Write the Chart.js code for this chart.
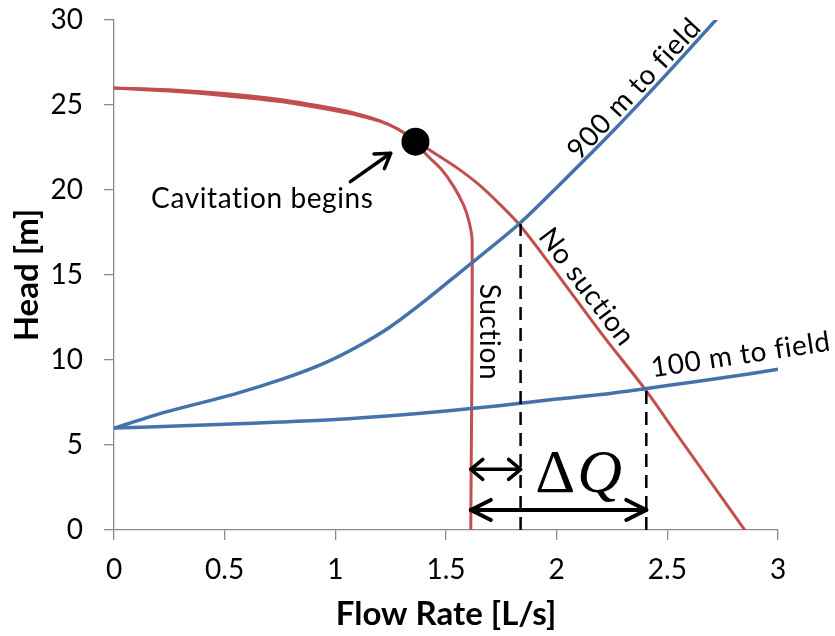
<!DOCTYPE html>
<html>
<head>
<meta charset="utf-8">
<script src="https://cdn.jsdelivr.net/npm/chart.js@4.4.1/dist/chart.umd.min.js"></script>
<style>
  body { margin: 0; background: #fff; }
  #chart { display: block; }
</style>
</head>
<body>
<canvas id="chart" width="835" height="636"></canvas>
<script>
// Pump curve without suction restriction (flow L/s, head m)
var noSuctionQ = [0, 0.25, 0.5, 0.75, 1.0, 1.1, 1.2, 1.28, 1.36, 1.45, 1.55, 1.65, 1.74, 1.83, 1.96, 2.2, 2.4, 2.55, 2.7, 2.85];
var noSuctionH = [26.0, 25.82, 25.55, 25.2, 24.66, 24.4, 24.05, 23.6, 22.9, 22.15, 21.3, 20.3, 19.2, 17.98, 15.8, 11.6, 8.27, 5.5, 2.75, 0];

// Pump curve with suction (cavitation) limit
var suctionQ = [0, 0.25, 0.5, 0.75, 1.0, 1.1, 1.2, 1.28, 1.36, 1.41, 1.48, 1.535, 1.58, 1.603, 1.618, 1.612];
var suctionH = [26.0, 25.9, 25.68, 25.33, 24.78, 24.48, 24.08, 23.6, 22.9, 22.1, 21.2, 20.2, 19.1, 18.2, 17.06, 0];

// System curve, 900 m to field
var sys900Q = [0, 0.24, 0.54, 0.767, 0.948, 1.099, 1.249, 1.4, 1.558, 1.83, 2.02, 2.259, 2.5, 2.726];
var sys900H = [6.0, 6.96, 7.98, 8.9, 9.8, 10.78, 11.96, 13.43, 15.1, 18.0, 20.4, 23.53, 26.86, 30.1];

// System curve, 100 m to field
var sys100Q = [0, 0.25, 0.5, 0.75, 1.0, 1.25, 1.5, 1.75, 2.0, 2.25, 2.5, 2.75, 3.0];
var sys100H = [6.0, 6.1, 6.22, 6.35, 6.5, 6.72, 7.0, 7.33, 7.7, 8.05, 8.5, 8.95, 9.45];

// Operating points (dashed drop lines) and cavitation point
var dropQ = [1.837, 2.405];
var dropH = [18.0, 8.27];
var cavitationQ = [1.362];
var cavitationH = [22.84];

// Axis ticks
var xTicks = [0, 0.5, 1, 1.5, 2, 2.5, 3];
var yTicks = [0, 5, 10, 15, 20, 25, 30];

function toPoints(xs, ys) {
    return xs.map(function (x, i) { return { x: x, y: ys[i] }; });
}

var RED = '#C0504D';
var BLUE = '#4472AA';
var AXIS = '#8C8C8C';
var FONT = 'Lato, "Open Sans", sans-serif';

var datasets = [];

// Cavitation begins dot (index 0 draws on top)
datasets.push({
    data: toPoints(cavitationQ, cavitationH),
    pointRadius: 14,
    pointBackgroundColor: '#000',
    pointBorderWidth: 0,
    showLine: false
});

// Dashed drop lines from the operating points
dropQ.forEach(function (q, i) {
    datasets.push({
        data: [{ x: q, y: 0 }, { x: q, y: dropH[i] }],
        showLine: true,
        borderColor: '#000',
        borderWidth: 2.5,
        borderDash: [13, 8],
        pointRadius: 0
    });
});

datasets.push({
    data: toPoints(sys900Q, sys900H),
    showLine: true, borderColor: BLUE, borderWidth: 3.5, pointRadius: 0, tension: 0.3
});
datasets.push({
    data: toPoints(sys100Q, sys100H),
    showLine: true, borderColor: BLUE, borderWidth: 3.5, pointRadius: 0, tension: 0.3
});
datasets.push({
    data: toPoints(noSuctionQ, noSuctionH),
    showLine: true, borderColor: RED, borderWidth: 3, pointRadius: 0, tension: 0.3
});
datasets.push({
    data: toPoints(suctionQ, suctionH),
    showLine: true, borderColor: RED, borderWidth: 3, pointRadius: 0, tension: 0.3
});

// Labels along the curves, placed in data coordinates
var labels = [
    { text: 'Cavitation begins', x: 0.67, y: 19.45, angle: 0 },
    { text: '900 m to field', x: 2.35, y: 25.95, angle: -47 },
    { text: 'No suction', x: 2.135, y: 14.3, angle: 53 },
    { text: 'Suction', x: 1.693, y: 11.65, angle: 90 },
    { text: '100 m to field', x: 2.832, y: 10.3, angle: -8.5 }
];

// Arrows: [x1, y1, x2, y2, doubleHeaded, headLength, headHalfWidth, width]
var arrows = [
    [1.068, 20.49, 1.25, 22.16, false, 14, 9, 3.5],
    [1.612, 3.57, 1.837, 3.57, true, 12, 10, 3.5],
    [1.612, 1.18, 2.405, 1.18, true, 20, 10, 4]
];

function drawHead(ctx, tx, ty, ang, len, half) {
    ctx.beginPath();
    ctx.moveTo(tx - len * Math.cos(ang) + half * Math.sin(ang), ty - len * Math.sin(ang) - half * Math.cos(ang));
    ctx.lineTo(tx, ty);
    ctx.lineTo(tx - len * Math.cos(ang) - half * Math.sin(ang), ty - len * Math.sin(ang) + half * Math.cos(ang));
    ctx.stroke();
}

var annotationPlugin = {
    id: 'annotations',
    afterDatasetsDraw: function (chart) {
        var ctx = chart.ctx;
        var xs = chart.scales.x;
        var ys = chart.scales.y;
        ctx.save();

        // arrows
        ctx.strokeStyle = '#000';
        ctx.lineCap = 'round';
        ctx.lineJoin = 'round';
        arrows.forEach(function (a) {
            var x1 = xs.getPixelForValue(a[0]), y1 = ys.getPixelForValue(a[1]);
            var x2 = xs.getPixelForValue(a[2]), y2 = ys.getPixelForValue(a[3]);
            var ang = Math.atan2(y2 - y1, x2 - x1);
            ctx.lineWidth = a[7];
            ctx.beginPath();
            ctx.moveTo(x1, y1);
            ctx.lineTo(x2, y2);
            ctx.stroke();
            drawHead(ctx, x2, y2, ang, a[5], a[6]);
            if (a[4]) drawHead(ctx, x1, y1, ang + Math.PI, a[5], a[6]);
        });

        // curve labels (small letter spacing keeps "fi" from forming a ligature)
        ctx.fillStyle = '#000';
        ctx.font = '28px ' + FONT;
        ctx.letterSpacing = '0.6px';
        ctx.textAlign = 'center';
        ctx.textBaseline = 'middle';
        labels.forEach(function (l) {
            ctx.save();
            ctx.translate(xs.getPixelForValue(l.x), ys.getPixelForValue(l.y));
            ctx.rotate(l.angle * Math.PI / 180);
            ctx.fillText(l.text, 0, 0);
            ctx.restore();
        });
        ctx.letterSpacing = '0px';

        // Delta Q
        var cx = xs.getPixelForValue(2.095);
        var by = ys.getPixelForValue(2.25);
        ctx.textBaseline = 'alphabetic';
        ctx.textAlign = 'left';
        ctx.font = '62px "Liberation Serif", "DejaVu Serif", serif';
        var wd = ctx.measureText('\u0394').width;
        ctx.font = 'italic 62px "Liberation Serif", "DejaVu Serif", serif';
        var wq = ctx.measureText('Q').width;
        var start = cx - (wd + wq) / 2;
        ctx.font = '62px "Liberation Serif", "DejaVu Serif", serif';
        ctx.fillText('\u0394', start, by);
        ctx.font = 'italic 62px "Liberation Serif", "DejaVu Serif", serif';
        ctx.fillText('Q', start + wd + 2, by);

        ctx.restore();
    }
};

var ctx = document.getElementById('chart').getContext('2d');
new Chart(ctx, {
    type: 'scatter',
    data: { datasets: datasets },
    options: {
        responsive: false,
        animation: false,
        layout: { padding: { top: 20, right: 57, bottom: 0, left: 0 } },
        plugins: {
            legend: { display: false },
            tooltip: { enabled: false }
        },
        scales: {
            x: {
                type: 'linear',
                min: xTicks[0],
                max: xTicks[xTicks.length - 1],
                afterBuildTicks: function (s) { s.ticks = xTicks.map(function (v) { return { value: v }; }); },
                afterFit: function (s) { s.height = 106; s.paddingLeft = 0; s.paddingRight = 0; },
                ticks: {
                    color: '#000', font: { family: FONT, size: 28 }, padding: 13, maxRotation: 0,
                    callback: function (v) { return String(v); }
                },
                grid: { drawOnChartArea: false, tickLength: 10, color: AXIS, lineWidth: 1.3 },
                border: { color: AXIS, width: 1.3 },
                title: {
                    display: true,
                    text: 'Flow Rate [L/s]',
                    color: '#000',
                    font: { family: FONT, size: 33, weight: 'bold' },
                    padding: { top: 0, bottom: 2 }
                }
            },
            y: {
                type: 'linear',
                min: yTicks[0],
                max: yTicks[yTicks.length - 1],
                afterBuildTicks: function (s) { s.ticks = yTicks.map(function (v) { return { value: v }; }); },
                afterFit: function (s) { s.width = 114; s.paddingTop = 0; s.paddingBottom = 0; },
                ticks: {
                    color: '#000', font: { family: FONT, size: 28 }, padding: 21,
                    callback: function (v) { return String(v); }
                },
                grid: { drawOnChartArea: false, tickLength: 10, color: AXIS, lineWidth: 1.3 },
                border: { color: AXIS, width: 1.3 },
                title: {
                    display: true,
                    text: 'Head [m]',
                    color: '#000',
                    font: { family: FONT, size: 33, weight: 'bold' },
                    padding: { top: 8, bottom: 0 }
                }
            }
        }
    },
    plugins: [annotationPlugin]
});
</script>
</body>
</html>
